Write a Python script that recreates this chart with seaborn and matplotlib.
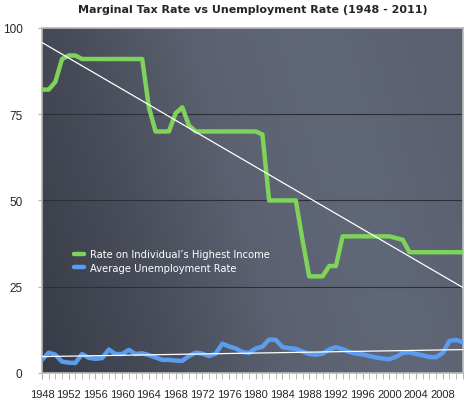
import numpy as np
import pandas as pd
import seaborn as sns
import matplotlib.pyplot as plt
from matplotlib.colors import LinearSegmentedColormap

years = list(range(1948, 2012))

top_rate = [82.13, 82.13, 84.36, 91, 92, 92, 91, 91, 91, 91,
            91, 91, 91, 91, 91, 91, 77, 70, 70, 70,
            75.25, 77, 71.75, 70, 70, 70, 70, 70, 70, 70,
            70, 70, 70, 69.13, 50, 50, 50, 50, 50, 38.5,
            28, 28, 28, 31, 31, 39.6, 39.6, 39.6, 39.6, 39.6,
            39.6, 39.6, 39.6, 39.1, 38.6, 35, 35, 35, 35, 35,
            35, 35, 35, 35]

unemployment = [3.8, 5.9, 5.3, 3.3, 3.0, 2.9, 5.5, 4.4, 4.1, 4.3,
                6.8, 5.5, 5.5, 6.7, 5.5, 5.7, 5.2, 4.5, 3.8, 3.8,
                3.6, 3.5, 4.9, 5.9, 5.6, 4.9, 5.6, 8.5, 7.7, 7.1,
                6.1, 5.8, 7.1, 7.6, 9.7, 9.6, 7.5, 7.2, 7.0, 6.2,
                5.5, 5.3, 5.6, 6.8, 7.5, 6.9, 6.1, 5.6, 5.4, 4.9,
                4.5, 4.2, 4.0, 4.7, 5.8, 6.0, 5.5, 5.1, 4.6, 4.6,
                5.8, 9.3, 9.6, 8.9]

df = pd.DataFrame({"Year": years, "Top Rate": top_rate, "Unemployment": unemployment})

sns.set_style("white")
plt.rcParams['font.family'] = ['Liberation Sans', 'DejaVu Sans']

fig = plt.figure(figsize=(4.68, 4.02), dpi=100)
ax = fig.add_axes([0.0897, 0.0697, 0.8993, 0.8583])

# dark slate background, lighter toward the middle/right
bg = LinearSegmentedColormap.from_list("bg", ["#383c47", "#474c58", "#5b6170", "#606777", "#5a606f"])
gx = np.linspace(0, 1, 200)
gy = np.linspace(0, 1, 100)
X, Y = np.meshgrid(gx, gy)
Z = np.clip(0.85 * X + 0.2 * Y, 0, 1)
ax.imshow(Z, cmap=bg, extent=[0, 1, 0, 1], transform=ax.transAxes,
          aspect="auto", origin="lower", zorder=0)

for v in [25, 50, 75]:
    ax.axhline(v, color="#2c2f36", lw=0.8, zorder=1)

sns.lineplot(data=df, x="Year", y="Top Rate", ax=ax, color="#7fd35b", lw=3.2,
             label="Rate on Individual\u2019s Highest Income", zorder=3)
sns.lineplot(data=df, x="Year", y="Unemployment", ax=ax, color="#5b9cf0", lw=3.2,
             label="Average Unemployment Rate", zorder=3)
sns.regplot(data=df, x="Year", y="Top Rate", ax=ax, scatter=False, ci=None,
            line_kws={"color": "white", "lw": 0.9, "zorder": 4})
sns.regplot(data=df, x="Year", y="Unemployment", ax=ax, scatter=False, ci=None,
            line_kws={"color": "white", "lw": 0.9, "zorder": 4})

ax.set_xlim(1948, 2011)
ax.set_ylim(0, 100)
ax.set_xticks(range(1948, 2012, 4))
ax.set_xticks(years, minor=True)
ax.set_yticks([0, 25, 50, 75, 100])
ax.set_xlabel("")
ax.set_ylabel("")
ax.tick_params(axis="x", which="both", direction="out", length=4, color="#b0b0b0",
               labelsize=8, pad=7.5, bottom=True)
ax.tick_params(axis="y", direction="out", length=3, color="#b0b0b0", labelsize=8.5,
               pad=11, left=True)
for s in ax.spines.values():
    s.set_color("#b8b8b8")
    s.set_linewidth(1.2)

leg = ax.legend(loc="upper left", bbox_to_anchor=(0.055, 0.385), frameon=False,
                prop={"family": "DejaVu Sans", "size": 7.2},
                handlelength=1.0, handletextpad=0.6, labelspacing=0.35)
for t in leg.get_texts():
    t.set_color("white")

fig.text(0.54, 0.975, "Marginal Tax Rate vs Unemployment Rate (1948 - 2011)",
         ha="center", va="center", fontsize=8, fontweight="bold", family="DejaVu Sans")

plt.savefig("out.png", dpi=100)
